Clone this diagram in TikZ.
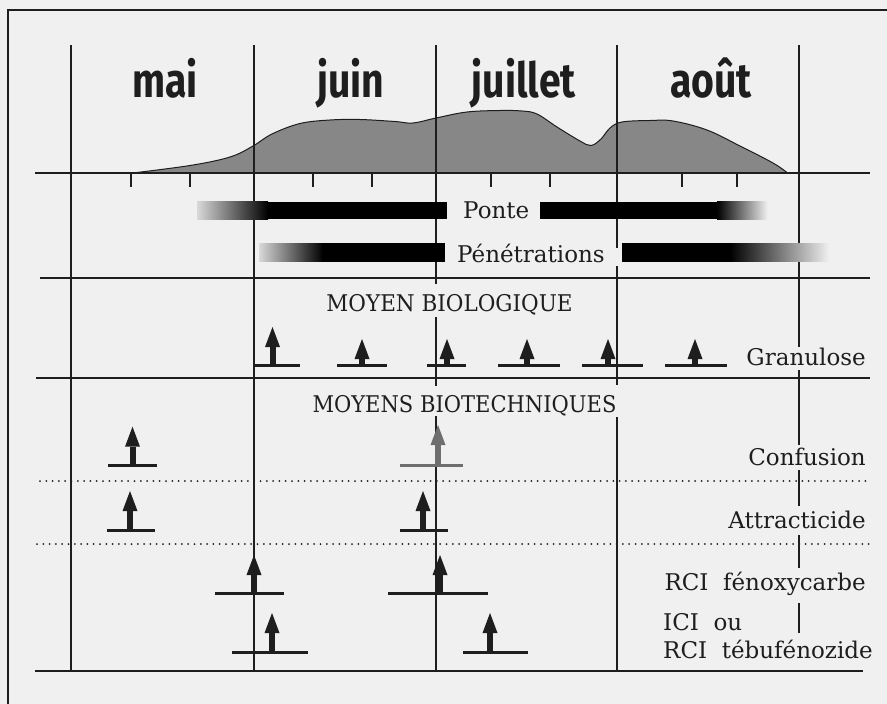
\documentclass[tikz,border=0pt]{standalone}
\usepackage{fontspec}
\setmainfont{DejaVu Serif}
\newfontfamily\monthfont{Fira Sans}
\usepackage{graphicx}
\definecolor{bgc}{RGB}{240,240,240}
\definecolor{ink}{RGB}{30,30,30}
\definecolor{curvefill}{RGB}{135,135,135}
\definecolor{grayarrow}{RGB}{110,110,110}
\tikzset{
 gridline/.style={line width=2.2pt, draw=ink},
 dotline/.style={line width=2pt, draw=ink, dash pattern=on 0pt off 6.3pt, line cap=round},
 lab/.style={font=\fontsize{23}{27}\selectfont, text=ink, inner sep=0pt},
 month/.style={font=\monthfont\bfseries\fontsize{46}{50}\selectfont, inner sep=0pt, text=ink},
 pics/treat/.style n args={4}{code={
   \draw[line width=3pt, draw=#4] (#1,0) -- (#2,0);
   \fill[#4] (-3,0) rectangle (3,{20-#3});
   \fill[#4] (-7.5,{20-#3}) -- (7.5,{20-#3}) -- (0,{-#3}) -- cycle;
 }}
}
\begin{document}
\begin{tikzpicture}[x=1pt,y=-1pt]
\useasboundingbox (0,0) rectangle (887,704);
\fill[bgc] (0,0) rectangle (887,704);
% frame
\draw[gridline] (8,710) -- (8,10) -- (895,10);
% activity curve
\fill[curvefill, draw=ink, line width=1pt] plot[smooth, tension=0.6] coordinates {
 (130,173.3) (190,165.5) (230,157) (253,146) (272,134) (300,123.5) (330,120) (360,119.5) (395,121.5) (413,123) (436,118) (467,112) (500,110.5) (522,111) (537,114) (557,127) (580,141) (591,145.5) (601,139) (610,128) (622,122) (650,120.5) (673,121) (707,130) (740,146) (773,163) (788,173.3)} -- cycle;
% vertical month lines
\draw[gridline] (71,45) -- (71,671);
\draw[gridline] (254,45) -- (254,671);
\draw[gridline] (436,45) -- (436,284);
\draw[gridline] (436,317) -- (436,386);
\draw[gridline] (436,416) -- (436,671);
\draw[gridline] (617,45) -- (617,248);
\draw[gridline] (617,266) -- (617,385);
\draw[gridline] (617,417) -- (617,671);
\draw[gridline] (799,45) -- (799,347);
\draw[gridline] (799,370) -- (799,445);
\draw[gridline] (799,470) -- (799,506);
\draw[gridline] (799,535) -- (799,568);
\draw[gridline] (799,603) -- (799,633);
% horizontal lines
\draw[gridline] (35,173.3) -- (870,173.3);
\foreach \tx in {131,190,313,372,491,550,682,737} \draw[gridline] (\tx,173.3) -- (\tx,187);
\draw[gridline] (40,278.3) -- (870,278.3);
\draw[gridline] (36,378.3) -- (870,378.3);
\draw[dotline] (40,481) -- (870,481);
\draw[dotline] (37,544) -- (870,544);
\draw[gridline] (35,670.7) -- (863,670.7);
% months
\node[month, anchor=base] (mai) at (165,97) {\scalebox{0.85}[1.05]{mai}};
\node[month, anchor=base] (juin) at (350.5,97) {\scalebox{0.85}[1.05]{juin}};
\node[month, anchor=base] (juillet) at (524,97) {\scalebox{0.85}[1.05]{juillet}};
\node[month, anchor=base] (aout) at (711,97) {\scalebox{0.85}[1.05]{août}};
% Ponte bars
\shade[left color=black!15, right color=black] (197,201.7) rectangle (268,219.3);
\fill[black] (267,201.7) rectangle (447,219.3);
\node[lab, anchor=base west] (ponte) at (463,218) {Ponte};
\fill[black] (540,201.7) rectangle (718,219.3);
\shade[left color=black, right color=black!5] (717,201.7) rectangle (768,219.3);
% Penetrations bars
\shade[left color=black!15, right color=black] (259,243.3) rectangle (323,261.7);
\fill[black] (322,243.3) rectangle (445,261.7);
\node[lab, anchor=base west] (pene) at (457,262) {Pénétrations};
\fill[black] (622,243.3) rectangle (731,261.7);
\shade[left color=black, right color=black!5] (730,243.3) rectangle (830,261.7);
% section titles
\node[lab, anchor=base] (bio) at (449.5,311.7) {\scalebox{0.935}[1]{MOYEN BIOLOGIQUE}};
\node[lab, anchor=base] (biotech) at (464.5,412.7) {\scalebox{0.915}[1]{MOYENS BIOTECHNIQUES}};
% row labels
\node[lab, anchor=base east] (granu) at (866,365) {Granulose};
\node[lab, anchor=base east] (conf) at (866,465) {Confusion};
\node[lab, anchor=base east] (attr) at (866,528) {Attracticide};
\node[lab, anchor=base east] (feno) at (866,590) {RCI\ \ fénoxycarbe};
\node[lab, anchor=base west] (ici) at (663,630) {ICI\ \ ou};
\node[lab, anchor=base west] (tebu) at (663,658) {RCI\ \ tébufénozide};
% treatments: Granulose
\pic at (272.5,365.5) {treat={-17.5}{27.5}{38.5}{ink}};
\pic at (362,365.5) {treat={-25}{25}{26.5}{ink}};
\pic at (447,365.5) {treat={-20}{19}{26.5}{ink}};
\pic at (527,365.5) {treat={-29}{33}{26.5}{ink}};
\pic at (608,365.5) {treat={-26}{35}{26.5}{ink}};
\pic at (695,365.5) {treat={-30}{32}{26.5}{ink}};
% Confusion
\pic at (132.5,465) {treat={-24.5}{24.5}{38.3}{ink}};
\pic at (438,465) {treat={-38}{25}{40}{grayarrow}};
% Attracticide
\pic at (130,530) {treat={-23}{25}{39}{ink}};
\pic at (423,530) {treat={-23}{25}{39}{ink}};
% RCI fenoxycarbe
\pic at (254,593.5) {treat={-39}{30}{38.5}{ink}};
\pic at (440,593.5) {treat={-52}{48}{38.5}{ink}};
% ICI / RCI tebufenozide
\pic at (272,652) {treat={-40}{36}{39}{ink}};
\pic at (490,652) {treat={-27}{38}{39}{ink}};
\end{tikzpicture}
\end{document}
